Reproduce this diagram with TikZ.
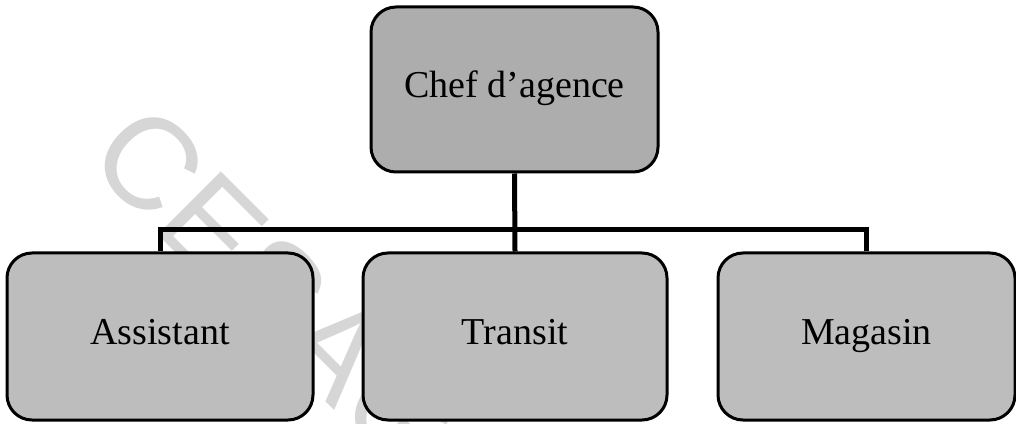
\documentclass[tikz,border=0pt]{standalone}
\usepackage{fontspec}
\setmainfont{Liberation Serif}
\newfontfamily\wmfont{Liberation Sans}
\begin{document}
\begin{tikzpicture}[x=1pt,y=1pt,
  unit/.style={draw=black, line width=3pt, rounded corners=25pt,
    inner sep=0pt, text height=25pt, text depth=9pt,
    font=\fontsize{38}{42}\selectfont},
  headunit/.style={unit, fill=black!32},
  subunit/.style={unit, fill=black!26},
  conn/.style={draw=black, line width=5pt, line join=miter},
  mark text/.style={text=black!16, rotate=-45, inner sep=0pt,
    font=\wmfont\fontsize{130}{130}\selectfont}]
  \useasboundingbox (0,0) rectangle (1016,423);
  % stamp in the background
  \node[mark text] (stamp) at (277,133) {CESAG};
  % organisation chart
  \node[headunit, minimum width=287pt, minimum height=165pt] (chef) at (514.5,333.5) {Chef d’agence};
  \node[subunit, minimum width=306pt, minimum height=167pt] (assist) at (160,86.5) {Assistant};
  \node[subunit, minimum width=304pt, minimum height=167pt] (transit) at (515,86.5) {Transit};
  \node[subunit, minimum width=297pt, minimum height=167pt] (magasin) at (866.5,86.5) {Magasin};
  \coordinate (bus) at (515,193);
  \draw[conn] (chef.south) -- (transit.north);
  \draw[conn] (assist.north) |- (bus) -| (magasin.north);
\end{tikzpicture}
\end{document}
